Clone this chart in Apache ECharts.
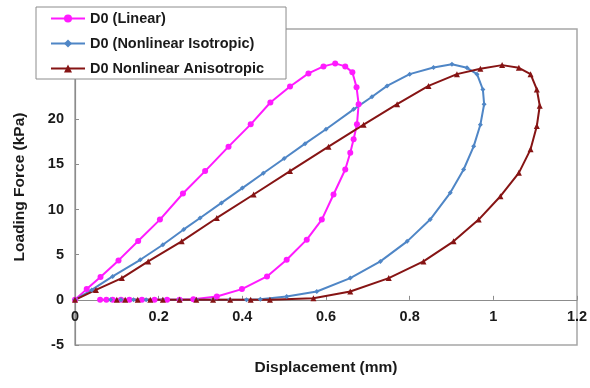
<!DOCTYPE html>
<html>
<head>
<meta charset="utf-8">
<script src="https://cdn.jsdelivr.net/npm/echarts@6/dist/echarts.min.js"></script>
<style>
  html, body { margin: 0; padding: 0; background: #fff; }
  #chart { width: 590px; height: 388px; }
</style>
</head>
<body>
<div id="chart"></div>
<script>
// Loading / unloading hysteresis loops: displacement (mm) vs loading force (kPa)
const seriesNames = ['D0 (Linear)', 'D0 (Nonlinear Isotropic)', 'D0 Nonlinear Anisotropic'];
const xTitle = 'Displacement (mm)';
const yTitle = 'Loading Force (kPa)';

const linearDisp = [0, 0.028, 0.061, 0.104, 0.151, 0.203, 0.258, 0.311, 0.367, 0.420, 0.467, 0.514, 0.558, 0.594, 0.622,
  0.646, 0.663, 0.673, 0.678, 0.674, 0.666, 0.658, 0.646, 0.618, 0.590, 0.554, 0.506, 0.459, 0.399, 0.339, 0.283,
  0.25, 0.22, 0.19, 0.16, 0.13, 0.11, 0.09, 0.075, 0.06];
const linearForce = [0, 1.19, 2.52, 4.37, 6.52, 8.89, 11.78, 14.26, 16.97, 19.44, 21.86, 23.63, 25.08, 25.86, 26.19,
  25.86, 25.2, 23.56, 21.67, 19.44, 17.78, 16.3, 14.44, 11.67, 8.89, 6.67, 4.44, 2.59, 1.19, 0.37, 0.08,
  0, 0, 0, 0, 0, 0, 0, 0, 0];

const isoDisp = [0, 0.04, 0.09, 0.156, 0.21, 0.26, 0.299, 0.35, 0.40, 0.45, 0.50, 0.55, 0.60, 0.666, 0.71, 0.746, 0.80,
  0.857, 0.901, 0.937, 0.961, 0.975, 0.978, 0.969, 0.953, 0.929, 0.897, 0.849, 0.794, 0.730, 0.658, 0.578, 0.506, 0.443,
  0.41, 0.37, 0.33, 0.29, 0.25, 0.21, 0.17, 0.14, 0.11, 0.085];
const isoForce = [0, 1.1, 2.6, 4.44, 6.1, 7.8, 9.07, 10.74, 12.38, 14.02, 15.66, 17.3, 18.9, 21.1, 22.5, 23.7, 25.0,
  25.74, 26.1, 25.7, 25.0, 23.3, 21.67, 19.4, 17.0, 14.44, 11.85, 8.89, 6.48, 4.26, 2.41, 0.93, 0.37, 0.08,
  0, 0, 0, 0, 0, 0, 0, 0, 0, 0];

const anisoDisp = [0, 0.05, 0.112, 0.175, 0.255, 0.339, 0.427, 0.514, 0.606, 0.690, 0.770, 0.845, 0.913, 0.969, 1.021,
  1.061, 1.089, 1.104, 1.111, 1.104, 1.089, 1.061, 1.017, 0.965, 0.905, 0.833, 0.750, 0.658, 0.570,
  0.466, 0.42, 0.371, 0.33, 0.29, 0.25, 0.21, 0.18, 0.15, 0.12, 0.10];
const anisoForce = [0, 1.1, 2.41, 4.26, 6.48, 9.07, 11.67, 14.26, 16.97, 19.4, 21.67, 23.7, 25.0, 25.6, 26.0,
  25.7, 25.0, 23.3, 21.5, 19.26, 16.67, 14.07, 11.48, 8.89, 6.48, 4.26, 2.41, 0.93, 0.19,
  0, 0, 0, 0, 0, 0, 0, 0, 0, 0, 0];

// y tick labels drawn on the left; the upper ones sit behind the legend box
const yTickLabels = ['-5', '0', '5', '10', '15', '20'];

const pairs = (xs, ys) => xs.map((x, i) => [x, ys[i]]);

const font = '"Liberation Sans", Arial, sans-serif';
const chart = echarts.init(document.getElementById('chart'), null, { renderer: 'canvas' });

const gridBox = { left: 75, right: 13, top: 29, bottom: 43 };

chart.setOption({
  animation: false,
  backgroundColor: '#ffffff',
  grid: {
    ...gridBox,
    outerBoundsMode: 'none',
    containLabel: false,
    show: true, borderColor: '#a6a6a6', borderWidth: 1.5, backgroundColor: 'transparent'
  },
  legend: {
    data: seriesNames,
    orient: 'vertical',
    left: 36, top: 7,
    padding: [4, 22, 3, 14],
    itemWidth: 34, itemHeight: 10, itemGap: 10,
    backgroundColor: '#ffffff',
    borderColor: '#8c8c8c', borderWidth: 1,
    textStyle: { fontFamily: font, fontWeight: 'bold', fontSize: 14.5, color: '#1a1a1a' },
    z: 10
  },
  // x-axis title, centred under the plot area
  graphic: [{
    type: 'text',
    x: (gridBox.left + (590 - gridBox.right)) / 2,
    y: 368,
    style: {
      text: xTitle, fontFamily: font, fontWeight: 'bold', fontSize: 15.5, fill: '#1a1a1a',
      align: 'center', verticalAlign: 'middle'
    }
  }],
  xAxis: {
    type: 'value', min: 0, max: 1.2, interval: 0.2,
    axisLine: { onZero: true, lineStyle: { color: '#8c8c8c', width: 1.2 } },
    axisTick: { show: true, inside: true, length: 4, lineStyle: { color: '#8c8c8c' } },
    // labels sit just under the zero line rather than under the plot border
    axisLabel: { fontFamily: font, fontWeight: 'bold', fontSize: 14.5, color: '#1a1a1a', margin: -36 },
    splitLine: { show: false }
  },
  yAxis: {
    type: 'value', min: -5, max: 30, interval: 5,
    name: yTitle, nameLocation: 'middle', nameGap: 47,
    nameTextStyle: { fontFamily: font, fontWeight: 'bold', fontSize: 15.5, color: '#1a1a1a' },
    axisLine: { show: true, lineStyle: { color: '#8c8c8c', width: 1.2 } },
    axisTick: { show: true, inside: true, length: 4, lineStyle: { color: '#8c8c8c' } },
    axisLabel: {
      fontFamily: font, fontWeight: 'bold', fontSize: 14.5, color: '#1a1a1a', margin: 11,
      formatter: v => (yTickLabels.includes(String(v)) ? String(v) : '')
    },
    splitLine: { show: false }
  },
  series: [
    {
      name: seriesNames[0], type: 'line', data: pairs(linearDisp, linearForce),
      symbol: 'circle', symbolSize: 6, showAllSymbol: true,
      lineStyle: { color: '#ff1aff', width: 2 }, itemStyle: { color: '#ff1aff' }
    },
    {
      name: seriesNames[1], type: 'line', data: pairs(isoDisp, isoForce),
      symbol: 'diamond', symbolSize: 5, showAllSymbol: true,
      lineStyle: { color: '#4f86c6', width: 2 }, itemStyle: { color: '#4f86c6' }
    },
    {
      name: seriesNames[2], type: 'line', data: pairs(anisoDisp, anisoForce),
      symbol: 'triangle', symbolSize: 6, showAllSymbol: true,
      lineStyle: { color: '#861414', width: 2 }, itemStyle: { color: '#861414' }
    }
  ]
});
</script>
</body>
</html>
